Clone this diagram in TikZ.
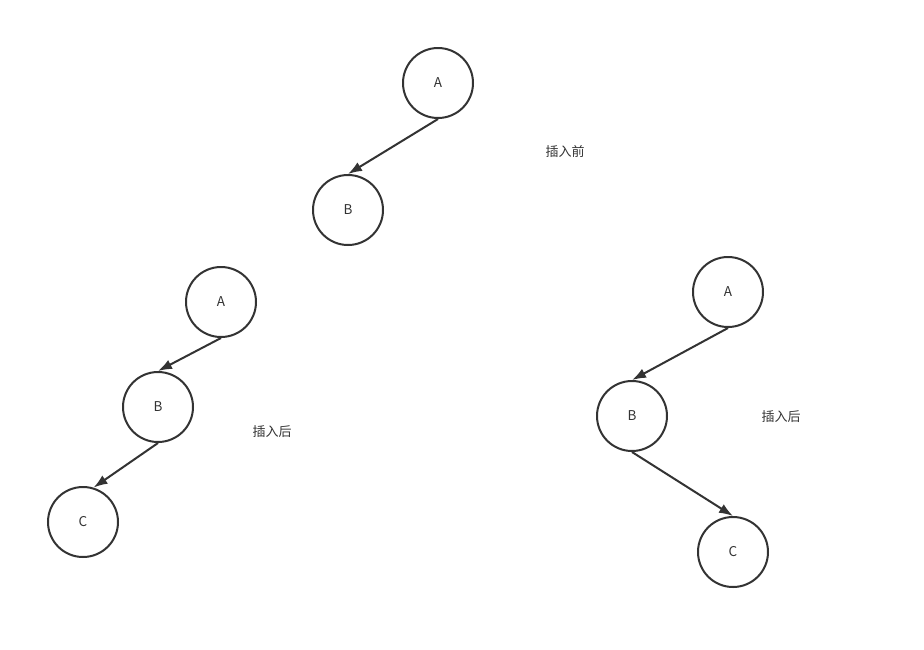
\documentclass[tikz,border=0pt]{standalone}
\usepackage{fontspec}
\setmainfont{Noto Sans CJK SC}
\usepackage{tikz}
\usetikzlibrary{arrows.meta, positioning}
\definecolor{ink}{HTML}{333333}

\begin{document}
\begin{tikzpicture}[x=1pt, y=-1pt, thick, draw=ink, text=ink,
    tnode/.style={draw=ink, line width=2pt, circle, minimum size=70pt, inner sep=0pt, font=\fontsize{13.5}{15}\selectfont},
    edge/.style={draw=ink, line width=2pt, -{Latex[length=14pt,width=10pt]}},
    note/.style={font=\fontsize{13}{15}\selectfont, text=ink}]
    \useasboundingbox (0,0) rectangle (924,649);
    % Before insertion
    \node[tnode] (A1) at (438,83) {A};
    \node[tnode] (B1) at (348,210) {B};
    \node[note] (pre) at (565,152) {插入前};
    % After insertion (left)
    \node[tnode] (A2) at (221,302) {A};
    \node[tnode] (B2) at (158,407) {B};
    \node[tnode] (C2) at (83,522) {C};
    \node[note] (post1) at (272,432) {插入后};
    % After insertion (right)
    \node[tnode] (A3) at (728,292) {A};
    \node[tnode] (B3) at (632,416) {B};
    \node[tnode] (C3) at (733,552) {C};
    \node[note] (post2) at (781,417) {插入后};
    % Edges
    \draw[edge] (A1.south) -- (B1.north);
    \draw[edge] (A2.south) -- (B2.north);
    \draw[edge] (B2.south) -- (C2.73);
    \draw[edge] (A3.south) -- (B3.north);
    \draw[edge] (B3.south) -- (C3.north);
\end{tikzpicture}
\end{document}
